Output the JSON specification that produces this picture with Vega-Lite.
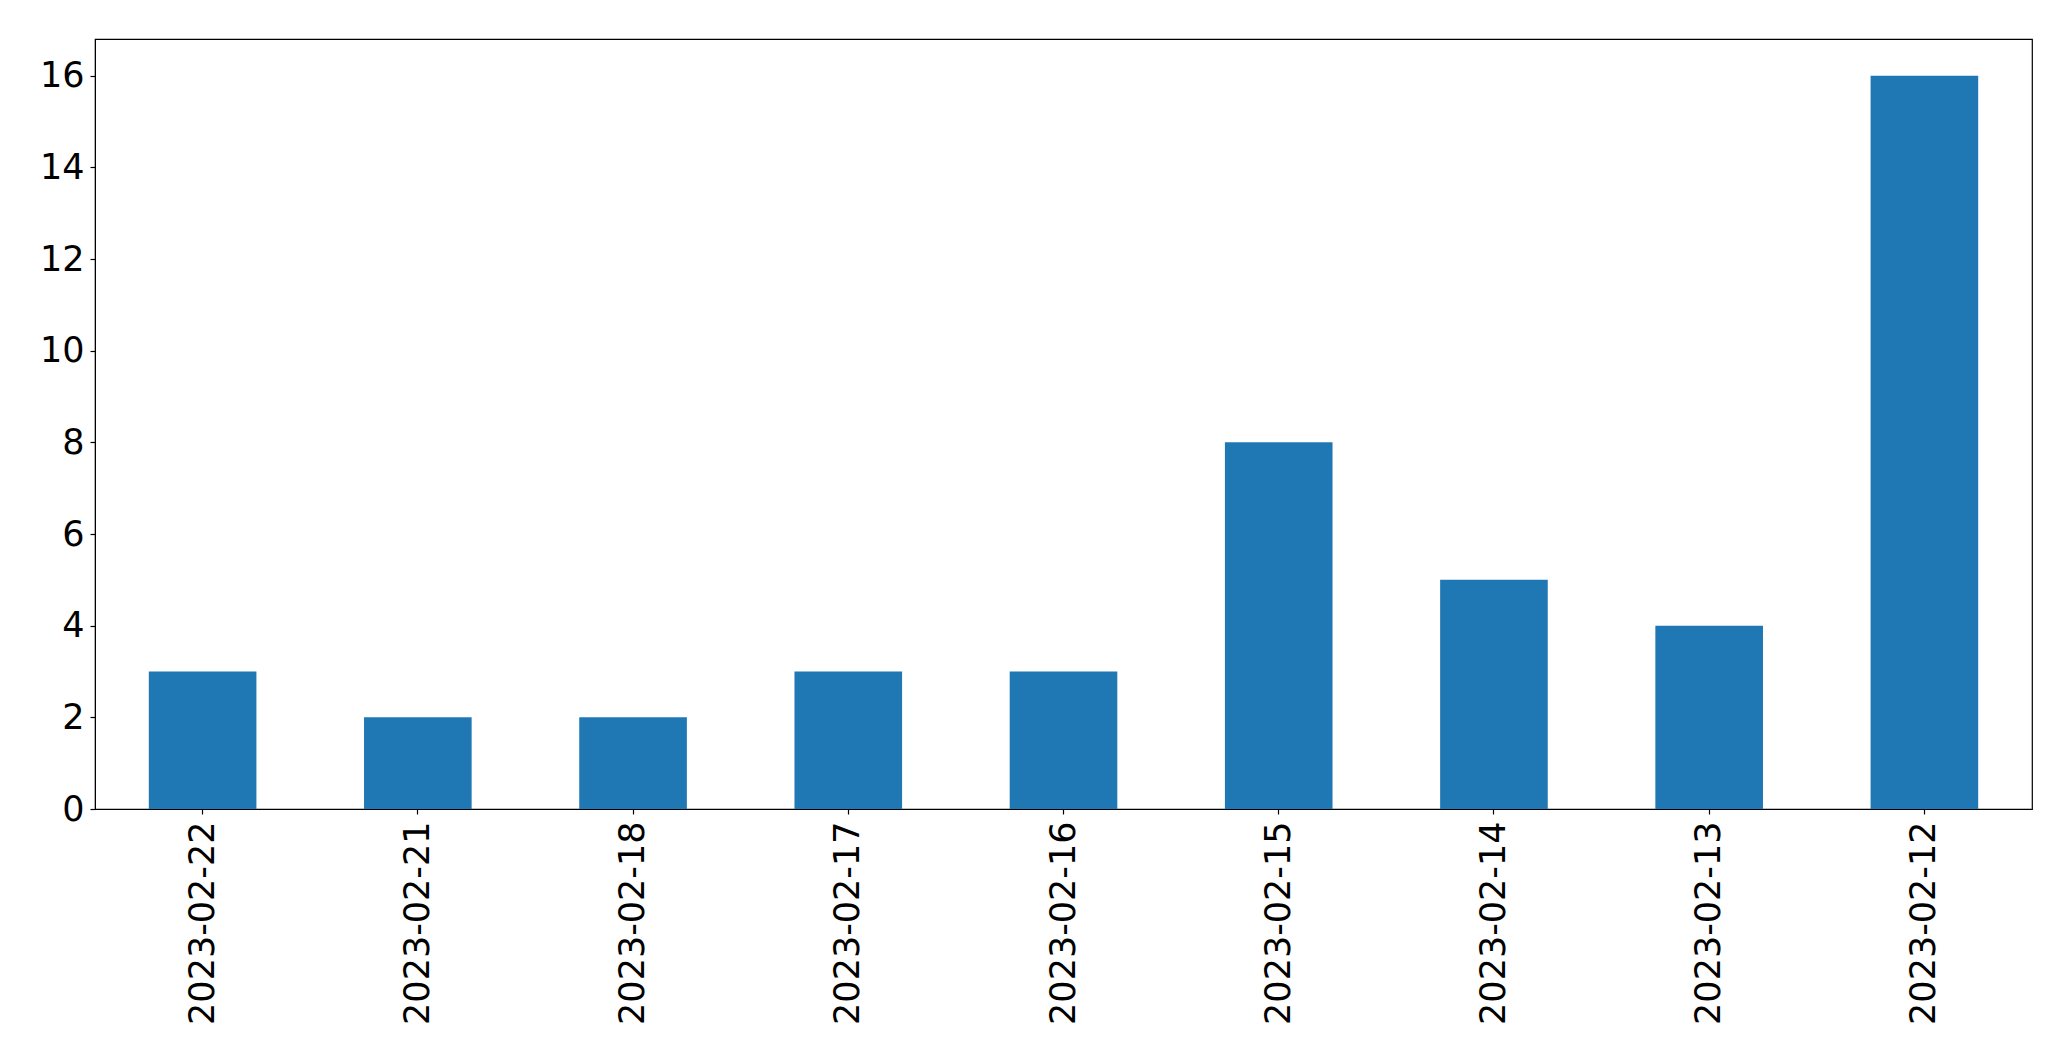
{
  "$schema": "https://vega.github.io/schema/vega-lite/v6.json",
  "autosize": "none",
  "width": 1937,
  "height": 770,
  "padding": {"left": 95, "top": 39, "right": 39, "bottom": 252},
  "background": "white",
  "config": {
    "view": {"stroke": "black", "strokeWidth": 1.2},
    "axis": {"labelFont": "DejaVu Sans", "labelFontSize": 35, "labelColor": "black", "tickColor": "black", "domainColor": "black", "tickSize": 5, "tickWidth": 1.2, "grid": false, "title": null, "labelLimit": 0}
  },
  "data": {
    "values": [
      {"date": "2023-02-22", "count": 3},
      {"date": "2023-02-21", "count": 2},
      {"date": "2023-02-18", "count": 2},
      {"date": "2023-02-17", "count": 3},
      {"date": "2023-02-16", "count": 3},
      {"date": "2023-02-15", "count": 8},
      {"date": "2023-02-14", "count": 5},
      {"date": "2023-02-13", "count": 4},
      {"date": "2023-02-12", "count": 16}
    ]
  },
  "mark": {"type": "bar", "color": "#1f77b4"},
  "encoding": {
    "x": {
      "field": "date", "type": "nominal", "sort": null,
      "scale": {"paddingInner": 0.5, "paddingOuter": 0.25},
      "axis": {"labelAngle": 270, "labelAlign": "right", "labelBaseline": "middle", "labelPadding": 7}
    },
    "y": {
      "field": "count", "type": "quantitative",
      "scale": {"domain": [0, 16.8], "nice": false, "zero": true},
      "axis": {"values": [0, 2, 4, 6, 8, 10, 12, 14, 16], "labelPadding": 6}
    }
  }
}
